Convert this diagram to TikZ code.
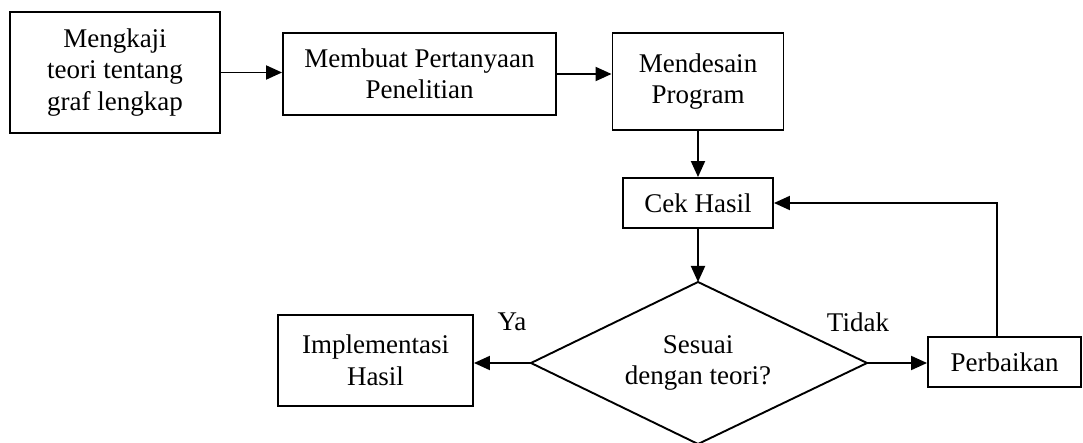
\documentclass[tikz,border=0pt]{standalone}
\usepackage{fontspec}
\setmainfont{Liberation Serif}
\usetikzlibrary{shapes.geometric,arrows.meta}
\begin{document}
\begin{tikzpicture}[x=1pt,y=-1pt,
  every node/.style={font=\fontsize{27}{31.5}\selectfont, align=center, inner sep=0pt},
  box/.style={draw, line width=1.9pt, rectangle},
  arr/.style={line width=1.9pt, -{Triangle[length=16pt,width=14pt]}},
  ln/.style={line width=1.9pt}]
\useasboundingbox (0,0) rectangle (1083,443);
\clip (0,0) rectangle (1083,443);
\node[box, minimum width=210pt, minimum height=121pt] (b1) at (115,72.5) {Mengkaji\\teori tentang\\graf lengkap};
\node[box, minimum width=273pt, minimum height=82pt] (b2) at (419.5,74) {Membuat Pertanyaan\\Penelitian};
\node[box, minimum width=171pt, minimum height=97pt] (b3) at (698,81.5) {Mendesain\\Program};
\node[box, minimum width=150pt, minimum height=50pt] (cek) at (698,203) {Cek Hasil};
\coordinate (dt) at (698,282);
\coordinate (dl) at (531,363);
\coordinate (dr) at (867,363);
\coordinate (db) at (698,444);
\draw[ln, line join=miter] (dt) -- (dr) -- (db) -- (dl) -- cycle;
\node (dia) at (698,363) {Sesuai\\dengan teori?};
\node[box, minimum width=195pt, minimum height=91pt] (impl) at (375.5,360.5) {Implementasi\\Hasil};
\node[box, minimum width=153pt, minimum height=50pt] (perb) at (1004.5,362) {Perbaikan};
\node (ya) at (512,322) {Ya};
\node (tidak) at (858,322) {Tidak};
\draw[arr] (b1.east) -- (b2.west |- b1.east);
\draw[arr] (b2.east) -- (b3.west |- b2.east);
\draw[arr] (b3.south) -- (cek.north);
\draw[arr] (cek.south) -- (dt);
\draw[arr] (dl) -- (impl.east |- dl);
\draw[arr] (dr) -- (perb.west |- dr);
\draw[arr] ([xshift=-7.5pt]perb.north) |- (cek.east);
\end{tikzpicture}
\end{document}
